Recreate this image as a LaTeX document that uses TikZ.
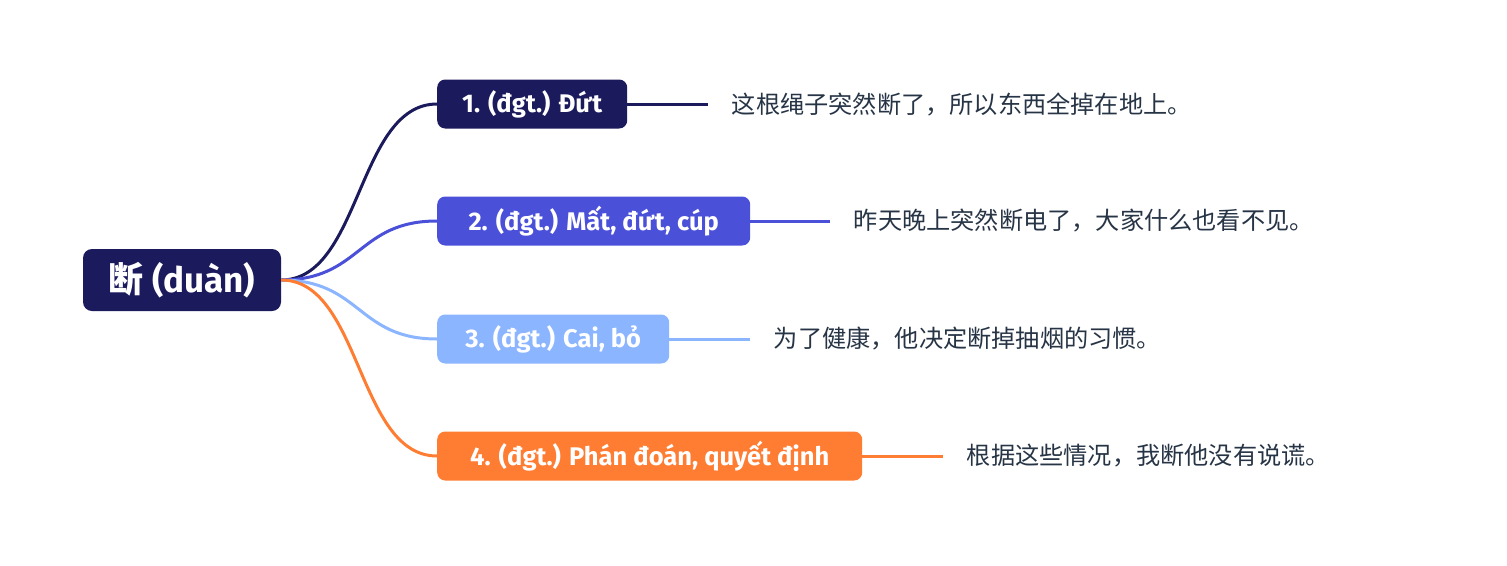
\documentclass[tikz,border=0pt]{standalone}
\usepackage{fontspec}
\setmainfont{Fira Sans}
\newfontfamily\cjk{Noto Sans CJK SC}
\usetikzlibrary{positioning}
\definecolor{navy}{HTML}{1B1A5C}
\definecolor{violet}{HTML}{4B50D9}
\definecolor{sky}{HTML}{8BB5FF}
\definecolor{tangerine}{HTML}{FF7D33}
\definecolor{ink}{HTML}{263445}
\tikzset{
	sense/.style={rounded corners=8pt, text=white, font=\bfseries\fontsize{25.5}{30}\selectfont,
		minimum height=49pt, inner xsep=0pt, anchor=west},
	example/.style={text=ink, font=\cjk\fontsize{24.2}{28}\selectfont, inner sep=0pt, anchor=west},
	branch/.style={line width=3pt}
}

\begin{document}
\begin{tikzpicture}[x=1pt, y=-1pt]
		\useasboundingbox (0, 0) rectangle (1507, 565);
		\node[fill=navy, rounded corners=9pt, text=white, font=\bfseries\fontsize{35}{40}\selectfont,
			minimum width=198pt, minimum height=62pt, inner sep=0pt] (root) at (182, 280) {{\cjk 断} (duàn)};
		\node[sense, fill=navy, minimum width=190pt] (m1) at (437, 104) {1. (đgt.) Đứt};
		\node[sense, fill=violet, minimum width=313pt] (m2) at (437, 221) {2. (đgt.) Mất, đứt, cúp};
		\node[sense, fill=sky, minimum width=232pt] (m3) at (437, 339) {3. (đgt.) Cai, bỏ};
		\node[sense, fill=tangerine, minimum width=425pt] (m4) at (437, 456) {4. (đgt.) Phán đoán, quyết định};
		\draw[branch, navy] (root.east) .. controls ++(80, 0) and ++(-80, 0) .. (m1.west);
		\draw[branch, violet] (root.east) .. controls ++(80, 0) and ++(-80, 0) .. (m2.west);
		\draw[branch, sky] (root.east) .. controls ++(80, 0) and ++(-80, 0) .. (m3.west);
		\draw[branch, tangerine] (root.east) .. controls ++(80, 0) and ++(-80, 0) .. (m4.west);
		\coordinate[right=81pt of m1.east] (e1);
		\coordinate[right=80pt of m2.east] (e2);
		\coordinate[right=81pt of m3.east] (e3);
		\coordinate[right=81pt of m4.east] (e4);
		\draw[branch, navy] (m1.east) -- (e1) node[example, right=22pt] (ex1) {这根绳子突然断了，所以东西全掉在地上。};
		\draw[branch, violet] (m2.east) -- (e2) node[example, right=22pt] (ex2) {昨天晚上突然断电了，大家什么也看不见。};
		\draw[branch, sky] (m3.east) -- (e3) node[example, right=22pt] (ex3) {为了健康，他决定断掉抽烟的习惯。};
		\draw[branch, tangerine] (m4.east) -- (e4) node[example, right=22pt] (ex4) {根据这些情况，我断他没有说谎。};
	\end{tikzpicture}
\end{document}
